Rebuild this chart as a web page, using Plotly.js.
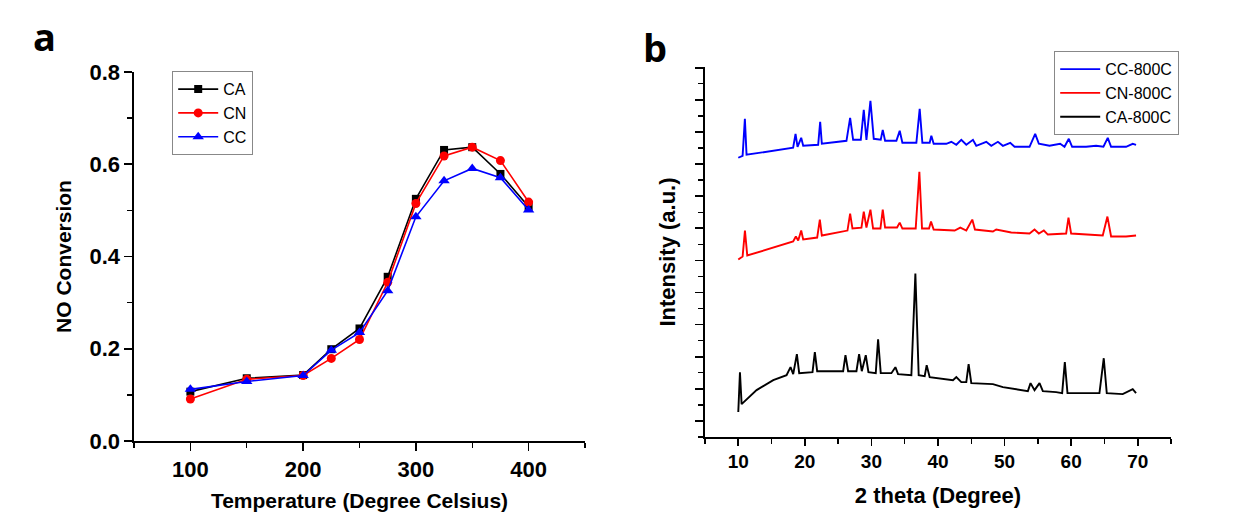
<!DOCTYPE html>
<html>
<head>
<meta charset="utf-8">
<script src="https://cdn.plot.ly/plotly-3.0.1.min.js"></script>
<style>html,body{margin:0;padding:0;background:#fff;}#chart{width:1243px;height:517px;}</style>
</head>
<body>
<div id="chart"></div>
<script>
// ---- Panel a: NO conversion vs temperature ----
const temperature = [100, 150, 200, 225, 250, 275, 300, 325, 350, 375, 400];
const convCA = [0.107, 0.136, 0.143, 0.199, 0.244, 0.356, 0.525, 0.631, 0.637, 0.579, 0.508];
const convCN = [0.091, 0.134, 0.142, 0.179, 0.220, 0.344, 0.515, 0.618, 0.637, 0.608, 0.518];
const convCC = [0.112, 0.129, 0.142, 0.197, 0.235, 0.326, 0.486, 0.564, 0.591, 0.571, 0.501];

// ---- Panel b: XRD patterns (stacked, arbitrary units) ----
const ccTheta = [10.0, 10.65, 10.99, 11.24, 18.24, 18.6, 18.9, 19.45, 19.75, 22.0, 22.3, 22.55, 26.25, 26.8, 27.25, 28.4, 28.85, 29.25, 29.85, 30.35, 31.4, 31.7, 32.05, 33.75, 34.25, 34.65, 36.75, 37.25, 37.65, 38.75, 39.0, 39.35, 41.25, 42.0, 42.75, 43.5, 44.25, 45.25, 45.75, 47.25, 48.0, 49.0, 49.75, 50.85, 51.5, 53.75, 54.6, 55.15, 56.75, 58.35, 59.0, 59.65, 60.15, 62.25, 63.75, 64.85, 65.5, 66.0, 68.25, 69.25, 69.75];
const ccInt = [280, 282, 319, 283, 290, 304, 291, 300, 292, 293, 316, 294, 297, 320, 298, 298, 328, 298, 337, 299, 298, 308, 297, 297, 307, 295, 295, 329, 295, 295, 302, 294, 294, 296, 293, 298, 293, 298, 292, 296, 292, 296, 292, 295, 291, 291, 304, 294, 292, 294, 291, 299, 291, 291, 292, 291, 300, 291, 291, 294, 293];

const cnTheta = [10.0, 10.65, 11.0, 11.35, 18.24, 18.65, 19.0, 19.45, 19.75, 21.85, 22.25, 22.55, 26.4, 26.8, 27.15, 28.5, 28.85, 29.25, 29.85, 30.25, 31.35, 31.7, 32.05, 33.85, 34.25, 34.65, 36.65, 37.2, 37.6, 38.65, 38.95, 39.35, 42.5, 43.35, 44.25, 45.15, 45.55, 48.25, 48.75, 51.0, 53.75, 54.5, 55.15, 55.9, 56.5, 59.25, 59.6, 60.0, 64.75, 65.45, 66.0, 68.25, 69.75];
const cnInt = [178, 181, 207, 182, 196, 201, 197, 207, 198, 200, 218, 202, 207, 224, 209, 210, 226, 210, 228, 209, 209, 228, 210, 210, 215, 209, 209, 266, 209, 209, 216, 208, 207, 210, 207, 218, 208, 206, 208, 205, 204, 208, 204, 207, 203, 204, 220, 204, 202, 221, 201, 201, 202];

const caTheta = [10.0, 10.25, 10.5, 11.75, 12.75, 15.25, 17.25, 17.85, 18.25, 18.8, 19.15, 21.15, 21.5, 21.85, 25.75, 26.1, 26.5, 27.75, 28.15, 28.55, 29.15, 29.55, 30.65, 31.0, 31.4, 33.0, 33.6, 34.0, 36.0, 36.6, 37.1, 38.0, 38.3, 38.75, 40.0, 42.25, 42.75, 43.5, 44.25, 44.6, 45.0, 48.25, 49.75, 52.25, 53.5, 53.9, 54.5, 55.25, 55.75, 57.75, 58.65, 59.05, 59.45, 61.75, 64.25, 64.9, 65.35, 67.75, 69.25, 69.75];
const caInt = [25, 65, 33, 41, 47, 57, 62, 70, 63, 83, 64, 65, 85, 66, 66, 82, 66, 66, 83, 66, 82, 65, 64, 98, 64, 64, 70, 63, 62, 164, 62, 61, 72, 60, 59, 57, 60, 55, 55, 73, 54, 53, 50, 47, 46, 54, 47, 54, 46, 45, 44, 75, 44, 44, 44, 79, 44, 43, 48, 44];

const LBL = "Liberation Sans, Arial, sans-serif";
const ink = "#000000";

const traces = [
  {x: temperature, y: convCA, name: "CA", mode: "lines+markers", xaxis: "x", yaxis: "y", legend: "legend",
   line: {color: "#000000", width: 1.6}, marker: {symbol: "square", size: 8, color: "#000000"}},
  {x: temperature, y: convCN, name: "CN", mode: "lines+markers", xaxis: "x", yaxis: "y", legend: "legend",
   line: {color: "#ff0000", width: 1.6}, marker: {symbol: "circle", size: 9, color: "#ff0000"}},
  {x: temperature, y: convCC, name: "CC", mode: "lines+markers", xaxis: "x", yaxis: "y", legend: "legend",
   line: {color: "#0000ff", width: 1.6}, marker: {symbol: "triangle-up", size: 10, color: "#0000ff"}},
  {x: ccTheta, y: ccInt, name: "CC-800C", mode: "lines", xaxis: "x2", yaxis: "y2", legend: "legend2",
   line: {color: "#0000ff", width: 1.9}},
  {x: cnTheta, y: cnInt, name: "CN-800C", mode: "lines", xaxis: "x2", yaxis: "y2", legend: "legend2",
   line: {color: "#ff0000", width: 1.9}},
  {x: caTheta, y: caInt, name: "CA-800C", mode: "lines", xaxis: "x2", yaxis: "y2", legend: "legend2",
   line: {color: "#000000", width: 1.9}}
];

const W = 1243, H = 517;
const px = v => v / W;
const py = v => (H - v) / H;

const axBase = {
  showgrid: false, zeroline: false, showline: true, linecolor: ink, linewidth: 1.6,
  ticks: "outside", ticklen: 8, tickwidth: 1.6, tickcolor: ink,
  tickfont: {family: LBL, size: 22, color: ink, weight: "bold"}
};
const minorStyle = {ticks: "outside", ticklen: 5, tickwidth: 1.4, tickcolor: ink, showgrid: false};

const layout = {
  width: W, height: H,
  paper_bgcolor: "#ffffff", plot_bgcolor: "#ffffff",
  margin: {l: 0, r: 0, t: 0, b: 0},
  showlegend: true,
  xaxis: Object.assign({}, axBase, {
    domain: [px(134), px(585)], anchor: "y", range: [50, 450],
    tickvals: [100, 200, 300, 400],
    minor: Object.assign({tickvals: [50, 150, 250, 350, 450]}, minorStyle),
    title: {text: "Temperature (Degree Celsius)", font: {family: LBL, size: 21, color: ink, weight: "bold"}, standoff: 12}
  }),
  yaxis: Object.assign({}, axBase, {
    domain: [py(441), py(72)], anchor: "x", range: [0, 0.8],
    tickvals: [0, 0.2, 0.4, 0.6, 0.8], tickformat: ".1f",
    minor: Object.assign({tickvals: [0.1, 0.3, 0.5, 0.7]}, minorStyle),
    title: {text: "NO Conversion", font: {family: LBL, size: 21, color: ink, weight: "bold"}, standoff: 12}
  }),
  xaxis2: Object.assign({}, axBase, {
    domain: [px(705), px(1171)], anchor: "y2", range: [5, 75],
    tickvals: [10, 20, 30, 40, 50, 60, 70], ticklen: 7,
    tickfont: {family: LBL, size: 19, color: ink, weight: "bold"},
    minor: Object.assign({tickvals: [5, 15, 25, 35, 45, 55, 65, 75]}, minorStyle),
    title: {text: "2 theta (Degree)", font: {family: LBL, size: 22, color: ink, weight: "bold"}, standoff: 16}
  }),
  yaxis2: Object.assign({}, axBase, {
    domain: [py(437), py(67)], anchor: "x2", range: [0, 371],
    tick0: 16.1, dtick: 32.2, ticklen: 8, showticklabels: false,
    minor: Object.assign({tick0: 0, dtick: 16.1}, minorStyle),
    title: {text: "Intensity (a.u.)", font: {family: LBL, size: 22, color: ink, weight: "bold"}, standoff: 14}
  }),
  legend: {
    x: px(172), y: py(71), xanchor: "left", yanchor: "top",
    bgcolor: "#ffffff", bordercolor: "#888888", borderwidth: 1.2,
    font: {family: LBL, size: 16, color: ink}, tracegroupgap: 0, itemwidth: 40
  },
  legend2: {
    x: px(1054), y: py(51), xanchor: "left", yanchor: "top",
    bgcolor: "#ffffff", bordercolor: "#888888", borderwidth: 1.2,
    font: {family: LBL, size: 16, color: ink}, tracegroupgap: 0, itemwidth: 40
  },
  annotations: [
    {text: "a", x: px(44), y: py(8), xref: "paper", yref: "paper", xanchor: "center", yanchor: "top", showarrow: false,
     font: {family: "Open Sans, sans-serif", size: 38, color: ink, weight: "bold"}},
    {text: "b", x: px(655), y: py(19), xref: "paper", yref: "paper", xanchor: "center", yanchor: "top", showarrow: false,
     font: {family: "Open Sans, sans-serif", size: 38, color: ink, weight: "bold"}}
  ]
};

Plotly.newPlot("chart", traces, layout, {displayModeBar: false, staticPlot: true});
</script>
</body>
</html>
